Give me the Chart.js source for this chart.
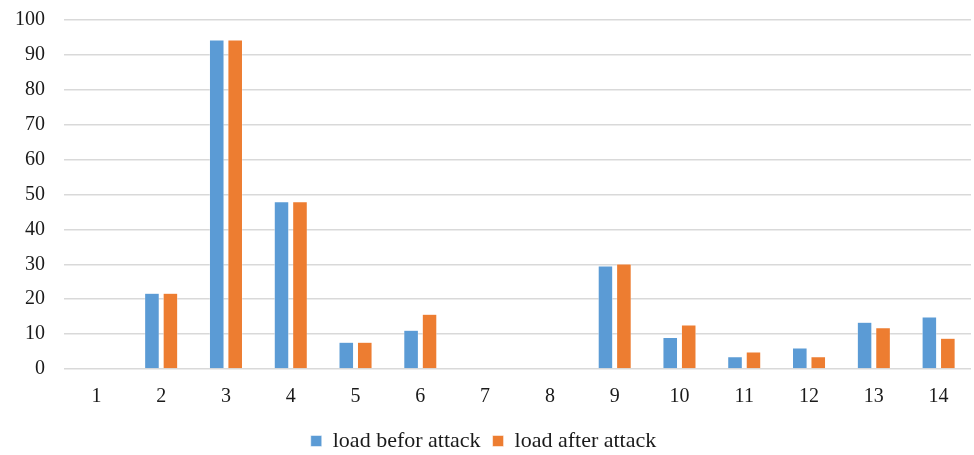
<!DOCTYPE html>
<html>
<head>
<meta charset="utf-8">
<script src="https://cdn.jsdelivr.net/npm/chart.js@4"></script>
<style>
  html, body { margin: 0; padding: 0; background: #fff; }
  #wrap { width: 974px; height: 455px; position: relative; }
</style>
</head>
<body>
<div id="wrap"><canvas id="chart"></canvas></div>
<script>
// values
const categories = ['1', '2', '3', '4', '5', '6', '7', '8', '9', '10', '11', '12', '13', '14'];
const loadBefore = [0, 21.7, 94.3, 47.9, 7.7, 11.1, 0, 0, 29.5, 9.0, 3.5, 6.0, 13.4, 14.9];
const loadAfter = [0, 21.7, 94.3, 47.9, 7.7, 15.7, 0, 0, 30.1, 12.6, 4.9, 3.5, 11.8, 8.8];
const yTicks = [0, 10, 20, 30, 40, 50, 60, 70, 80, 90, 100];

const family = '"Liberation Serif", "Times New Roman", serif';
const font = { family: family, size: 20 };
const legendFont = { family: family, size: 22 };

var ctx = document.getElementById('chart').getContext('2d');

const data = {
  labels: categories,
  datasets: [
    {
      label: 'load befor attack',
      data: loadBefore,
      backgroundColor: '#5b9bd5',
      borderColor: '#ffffff',
      borderWidth: 0.5,
      categoryPercentage: 0.57,
      barPercentage: 0.79
    },
    {
      label: 'load after attack',
      data: loadAfter,
      backgroundColor: '#ed7d31',
      borderColor: '#ffffff',
      borderWidth: 0.5,
      categoryPercentage: 0.57,
      barPercentage: 0.79
    }
  ]
};

const config = {
  type: 'bar',
  data: data,
  options: {
    responsive: true,
    maintainAspectRatio: false,
    animation: false,
    layout: {
      padding: { left: -4, right: 3, top: 0, bottom: -7 }
    },
    scales: {
      x: {
        grid: { display: false },
        border: { display: false },
        ticks: { color: '#1a1a1a', font: font, padding: 8, maxRotation: 0 },
        afterFit: function (axis) {
          axis.height += 1;
        }
      },
      y: {
        min: 0,
        max: 100,
        afterBuildTicks: function (axis) {
          axis.ticks = yTicks.map(v => ({ value: v }));
        },
        afterFit: function (axis) {
          // the tick padding is meant for the left gap only
          axis.paddingTop = 20;
          axis.paddingBottom = 12;
        },
        grid: { color: '#d9d9d9', lineWidth: 1.5, drawTicks: false },
        border: { display: false },
        ticks: { color: '#1a1a1a', font: font, padding: 19 }
      }
    },
    plugins: {
      legend: {
        position: 'bottom',
        labels: {
          color: '#1a1a1a',
          font: legendFont,
          boxWidth: 11,
          boxHeight: 11,
          padding: 12
        }
      },
      title: { display: false },
      tooltip: { enabled: false }
    }
  }
};

var chart = new Chart(ctx, config);
</script>
</body>
</html>
